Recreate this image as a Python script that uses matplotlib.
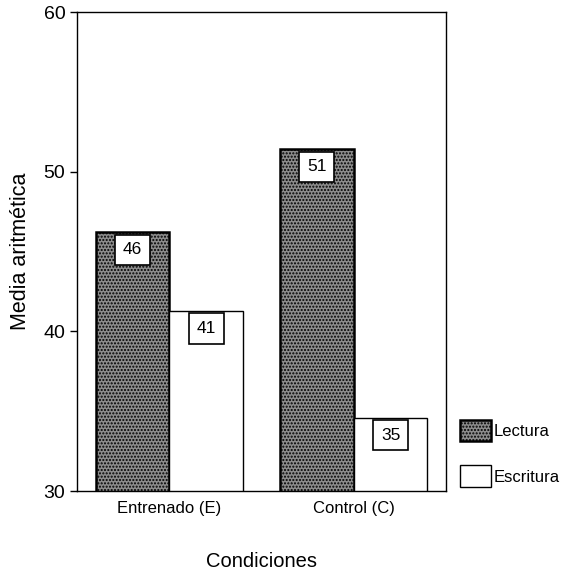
import matplotlib.pyplot as plt
import numpy as np

plt.rcParams['font.family'] = ['Liberation Sans', 'DejaVu Sans']

# Data
conditions = ['Entrenado (E)', 'Control (C)']
lectura = [46.2, 51.4]
escritura = [41.3, 34.6]
lectura_labels = ['46', '51']
escritura_labels = ['41', '35']

fig = plt.figure(figsize=(5.63, 5.73), dpi=100)
ax = fig.add_axes([0.137, 0.143, 0.655, 0.836])

x = np.arange(len(conditions))
width = 0.4

plt.rcParams['hatch.color'] = '#3a3a3a'
bars_l = ax.bar(x - width / 2, lectura, width, color='#8c8c8c',
                edgecolor='black', linewidth=1.8, hatch='.....', label='Lectura')
bars_e = ax.bar(x + width / 2, escritura, width, color='white',
                edgecolor='black', linewidth=1.0, label='Escritura')

# boxed value labels just under the top of each bar
box = dict(boxstyle='square,pad=0.45', facecolor='white', edgecolor='black', linewidth=1.2)
for xi, v, t in zip(x - width / 2, lectura, lectura_labels):
    ax.text(xi, v - 1.1, t, ha='center', va='center', fontsize=12.5, bbox=box)
for xi, v, t in zip(x + width / 2, escritura, escritura_labels):
    ax.text(xi, v - 1.1, t, ha='center', va='center', fontsize=12.5, bbox=box)

ax.set_ylim(30, 60)
ax.set_xlim(-0.5, 1.5)
ax.set_yticks([30, 40, 50, 60])
ax.tick_params(axis='y', labelsize=14, length=5, width=1)
ax.set_xticks(x)
ax.set_xticklabels(conditions, fontsize=12)
ax.tick_params(axis='x', length=0, pad=7)
for s in ax.spines.values():
    s.set_linewidth(1.0)

ax.set_ylabel('Media aritmética', fontsize=15.5, labelpad=9)
ax.set_xlabel('Condiciones', fontsize=14.5, labelpad=26)

ax.legend(loc='lower left', bbox_to_anchor=(1.02, -0.005), frameon=False,
          fontsize=12, handlelength=1.85, handleheight=1.6, labelspacing=1.45,
          handletextpad=0.2, borderaxespad=0)

fig.savefig('out.png', dpi=100)
